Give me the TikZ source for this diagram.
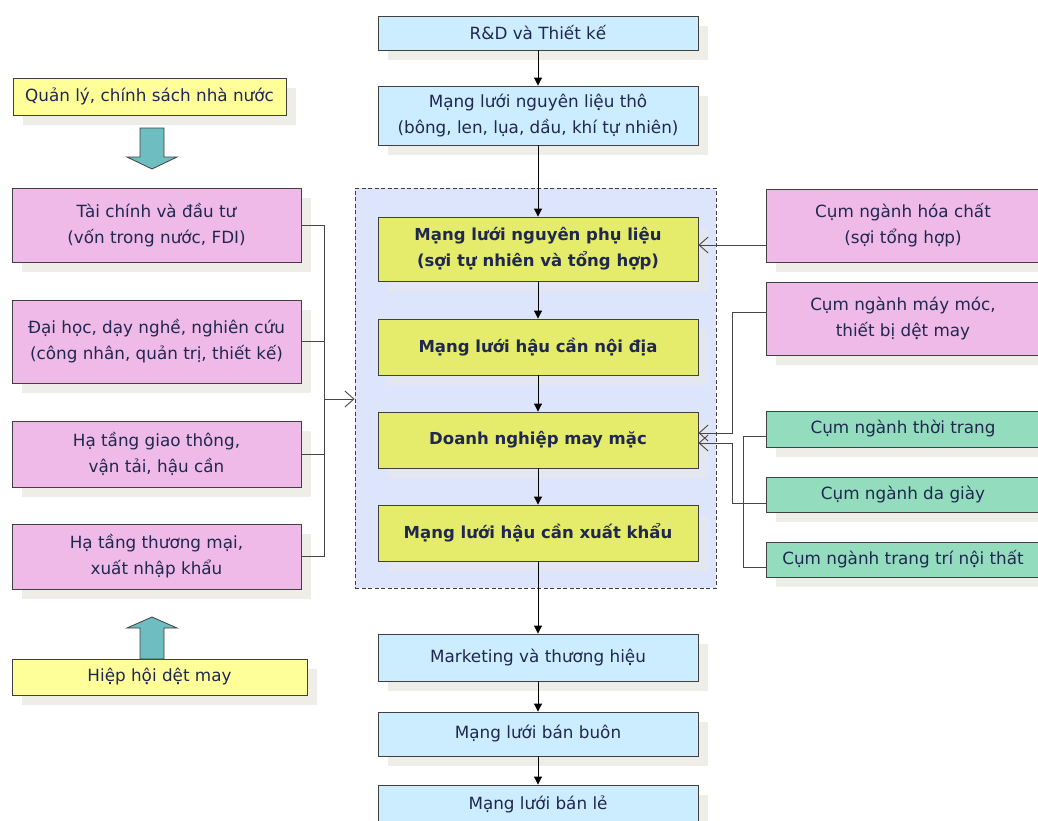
\documentclass[tikz,border=0pt]{standalone}
\usepackage{fontspec}
\setmainfont{DejaVu Sans}
\usetikzlibrary{arrows.meta,shadows}
\definecolor{txtc}{RGB}{32,40,80}
\definecolor{bordc}{RGB}{64,64,64}
\definecolor{linec}{RGB}{70,70,70}
\definecolor{bluec}{RGB}{204,236,255}
\definecolor{olivec}{RGB}{229,235,106}
\definecolor{pinkc}{RGB}{239,186,231}
\definecolor{greenc}{RGB}{147,221,190}
\definecolor{lyellowc}{RGB}{255,255,153}
\definecolor{grpc}{RGB}{221,229,252}
\definecolor{tealc}{RGB}{109,189,193}
\definecolor{shc}{RGB}{238,237,232}
\definecolor{shinc}{RGB}{228,231,240}
\begin{document}
\begin{tikzpicture}[x=1pt,y=-1pt,
  base/.style={draw=bordc, line width=0.9pt, text=txtc, align=center, inner sep=0pt,
    font=\fontsize{16.8}{26}\selectfont},
  shad/.style={drop shadow={shadow xshift=10pt, shadow yshift=-10pt, fill=shc, opacity=1}},
  shadin/.style={drop shadow={shadow xshift=10pt, shadow yshift=-10pt, fill=shinc, opacity=1}},
  bluebox/.style={base, shad, fill=bluec, minimum width=320pt},
  olbox/.style={base, shadin, fill=olivec, minimum width=320pt, font=\fontsize{16.5}{26}\selectfont\bfseries},
  pinkl/.style={base, shad, fill=pinkc, minimum width=289pt},
  pinkr/.style={base, shad, fill=pinkc, minimum width=274pt},
  greenr/.style={base, shad, fill=greenc, minimum width=274pt},
  yelbox/.style={base, shad, fill=lyellowc},
  chain/.style={draw=black, line width=0.9pt, -{Triangle[length=8pt,width=8pt]}},
  conn/.style={draw=linec, line width=0.9pt},
  barb/.style={conn, -{Straight Barb[length=9pt,width=16pt,line width=0.9pt]}},
  blockarrow/.style={draw=bordc, line width=0.8pt, fill=tealc}
]
\useasboundingbox (0,0) rectangle (1038,820);
\clip (0,0) rectangle (1038,820);

% group box
\node[draw=bordc, dash pattern=on 4pt off 2.5pt, line width=0.9pt, fill=grpc, minimum width=361pt, minimum height=400pt] (grp) at (535.5,388) {};

% central chain
\node[bluebox, minimum height=34pt] (rd) at (538,33) {R\&D và Thiết kế};
\node[bluebox, minimum height=59pt] (nlt) at (538,115.5) {Mạng lưới nguyên liệu thô\\(bông, len, lụa, dầu, khí tự nhiên)};
\node[olbox, minimum height=64pt] (pl) at (538,249) {Mạng lưới nguyên phụ liệu\\(sợi tự nhiên và tổng hợp)};
\node[olbox, minimum height=56pt] (hcnd) at (538,347) {Mạng lưới hậu cần nội địa};
\node[olbox, minimum height=56pt] (dn) at (538,440) {Doanh nghiệp may mặc};
\node[olbox, minimum height=56pt] (xk) at (538,533) {Mạng lưới hậu cần xuất khẩu};
\node[bluebox, minimum height=47pt] (mk) at (538,657.5) {Marketing và thương hiệu};
\node[bluebox, minimum height=44pt] (bb) at (538,734) {Mạng lưới bán buôn};
\node[bluebox, minimum height=40pt, text depth=0pt] (bl) at (538,805) {\raisebox{4pt}{Mạng lưới bán lẻ}};

\draw[chain] (rd.south) -- (nlt.north);
\draw[chain] (nlt.south) -- (pl.north);
\draw[chain] (pl.south) -- (hcnd.north);
\draw[chain] (hcnd.south) -- (dn.north);
\draw[chain] (dn.south) -- (xk.north);
\draw[chain] (xk.south) -- (mk.north);
\draw[chain] (mk.south) -- (bb.north);
\draw[chain] (bb.south) -- (bl.north);

% left side
\node[yelbox, minimum width=273pt, minimum height=37pt] (ql) at (149.5,96.5) {Quản lý, chính sách nhà nước};
\node[pinkl, minimum height=74pt] (tc) at (156.5,225) {Tài chính và đầu tư\\(vốn trong nước, FDI)};
\node[pinkl, minimum height=83pt] (dh) at (156.5,341.5) {Đại học, dạy nghề, nghiên cứu\\(công nhân, quản trị, thiết kế)};
\node[pinkl, minimum height=66pt] (gt) at (156.5,454) {Hạ tầng giao thông,\\vận tải, hậu cần};
\node[pinkl, minimum height=65pt] (tm) at (156.5,556.5) {Hạ tầng thương mại,\\xuất nhập khẩu};
\node[yelbox, minimum width=295pt, minimum height=36pt] (hh) at (159.5,677) {Hiệp hội dệt may};

% block arrows
\draw[blockarrow] (140,128) -- (164,128) -- (164,157) -- (177,157) -- (152,169) -- (127,157) -- (140,157) -- cycle;
\draw[blockarrow] (140,659) -- (164,659) -- (164,628) -- (177,628) -- (152,617) -- (127,628) -- (140,628) -- cycle;

% left bus
\coordinate (bus) at (324,0);
\coordinate (busout) at (324,399);
\draw[conn] (tc.east) -- (tc.east -| bus);
\draw[conn] (dh.east) -- (dh.east -| bus);
\draw[conn] (gt.east) -- (gt.east -| bus);
\draw[conn] (tm.east) -- (tm.east -| bus);
\draw[conn] (tc.east -| bus) -- (tm.east -| bus);
\draw[barb] (busout) -- (busout -| grp.west);

% right side
\node[pinkr, minimum height=73pt] (hc) at (903,225.5) {Cụm ngành hóa chất\\(sợi tổng hợp)};
\node[pinkr, minimum height=73pt] (mm) at (903,318.5) {Cụm ngành máy móc,\\thiết bị dệt may};
\node[greenr, minimum height=36pt] (tt) at (903,429) {Cụm ngành thời trang};
\node[greenr, minimum height=35pt] (dg) at (903,494.5) {Cụm ngành da giày};
\node[greenr, minimum height=35pt] (nt) at (903,559.5) {Cụm ngành trang trí nội thất};

\coordinate (hcA) at (766,245);
\draw[barb] (hcA) -- (hcA -| pl.east);

\coordinate (mmA) at (766,312);
\coordinate (mmB) at (732,312);
\coordinate (mmC) at (732,433);
\draw[barb] (mmA) -- (mmB) -- (mmC) -- (mmC -| dn.east);

\coordinate (dgA) at (766,503);
\coordinate (dgB) at (732,503);
\coordinate (dgC) at (732,443);
\draw[barb] (dgA) -- (dgB) -- (dgC) -- (dgC -| dn.east);

\coordinate (ttA) at (766,436);
\coordinate (ttB) at (743,436);
\coordinate (ntB) at (743,567);
\coordinate (ntA) at (766,567);
\draw[conn] (ttA) -- (ttB) -- (ntB) -- (ntA);
\end{tikzpicture}
\end{document}
